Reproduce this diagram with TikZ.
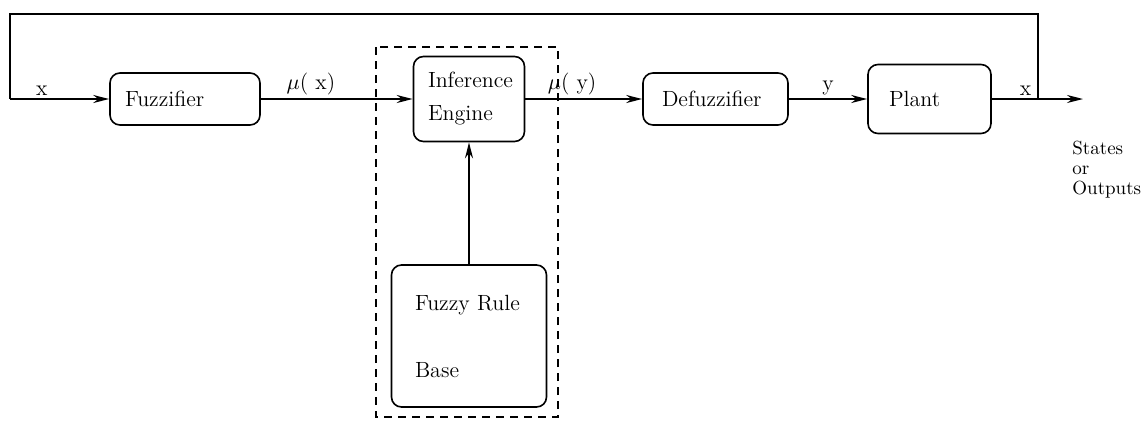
\documentclass[tikz,border=0pt]{standalone}
\usepackage{amsmath}
\usepackage{tikz}
\usetikzlibrary{arrows.meta}

\begin{document}
\begin{tikzpicture}[x=0.5pt, y=-0.5pt,
  block/.style={draw, rounded corners=5pt, line width=0.8pt, align=left, inner xsep=0pt, font=\fontsize{11}{13}\selectfont},
  link/.style={line width=0.8pt, -{Stealth[length=8pt, width=4pt]}},
  lbl/.style={font=\fontsize{11}{13}\selectfont, above, inner sep=1.5pt}]
  \useasboundingbox (0,0) rectangle (1147,424);
  \node[block, minimum width=75pt, minimum height=26pt, text width=60pt] (fuz) at (185,99) {Fuzzifier};
  \node[block, minimum width=55.5pt, minimum height=42.5pt, text width=41pt] (inf) at (469,99) {Inference\\[3.5pt] Engine};
  \node[block, minimum width=72.5pt, minimum height=26pt, text width=53.5pt] (dfz) at (715.5,99) {Defuzzifier};
  \node[block, minimum width=61.5pt, minimum height=34.5pt, text width=40.5pt] (plant) at (929.5,99) {Plant};
  \node[block, minimum width=77.5pt, minimum height=71pt, text width=54pt] (rule) at (469,336) {Fuzzy Rule\\[20.5pt] Base};
  \node[font=\fontsize{9.5}{10}\selectfont, align=left, anchor=north west, inner sep=0pt] (states) at (1072,141) {States\\or\\Outputs};
  \coordinate (tap) at (1038,99);
  \coordinate (outend) at (1083,99);
  \coordinate (topR) at (1038,14);
  \coordinate (topL) at (10,14);
  \coordinate (inL) at (10,99);
  \draw[line width=0.8pt] (tap) -- (topR) -- (topL) -- (inL);
  \draw[link] (inL) -- node[lbl, pos=0.32] {x} (fuz);
  \draw[link] (fuz) -- node[lbl, pos=0.33] {$\mu$( x)} (inf);
  \draw[link] (inf) -- node[lbl, pos=0.4] {$\mu$( y)} (dfz);
  \draw[link] (dfz) -- node[lbl] {y} (plant);
  \draw[link] (plant) -- node[lbl, pos=0.37] {x} (outend);
  \draw[link] (rule) -- (inf);
  \draw[line width=0.8pt, dash pattern=on 4pt off 3pt] (376,47) rectangle (558,417);
\end{tikzpicture}
\end{document}
